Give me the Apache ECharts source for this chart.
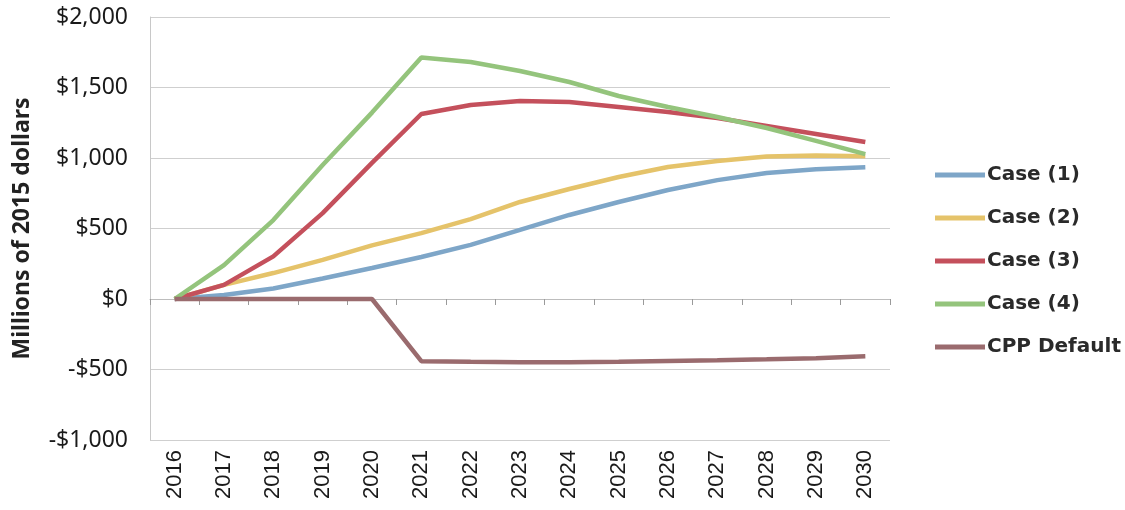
<!DOCTYPE html>
<html>
<head>
<meta charset="utf-8">
<script src="https://cdn.jsdelivr.net/npm/echarts@6/dist/echarts.min.js"></script>
<style>
  html, body { margin: 0; padding: 0; background: #ffffff; }
  #chart { width: 1125px; height: 510px; }
</style>
</head>
<body>
<div id="chart"></div>
<script>
const years = ['2016','2017','2018','2019','2020','2021','2022','2023','2024','2025','2026','2027','2028','2029','2030'];
const case1 = [0, 28, 75, 145, 220, 298, 384, 490, 596, 688, 773, 843, 893, 921, 935];
const case2 = [0, 100, 184, 278, 380, 467, 567, 688, 780, 865, 936, 979, 1010, 1018, 1012];
const case3 = [0, 100, 302, 609, 965, 1312, 1376, 1404, 1397, 1362, 1326, 1284, 1227, 1170, 1113];
const case4 = [0, 240, 560, 950, 1322, 1713, 1681, 1617, 1539, 1440, 1362, 1291, 1213, 1121, 1028];
const cppDefault = [0, 0, 0, 0, 0, -441, -445, -448, -448, -445, -440, -435, -428, -420, -406];
const seriesNames = ['Case (1)', 'Case (2)', 'Case (3)', 'Case (4)', 'CPP Default'];
const yTicks = { min: -1000, max: 2000, interval: 500 };

const colors = ['#7ea6c8', '#e5c36a', '#c4505c', '#94c47c', '#9a6b6e'];
const allData = [case1, case2, case3, case4, cppDefault];

function fmt(v) {
  const a = Math.abs(v).toLocaleString('en-US');
  return (v < 0 ? '-$' : '$') + a;
}

const chart = echarts.init(document.getElementById('chart'), null, { renderer: 'canvas' });
chart.setOption({
  backgroundColor: '#ffffff',
  animation: false,
  color: colors,
  grid: { left: 150, right: 235, top: 17, bottom: 70, containLabel: false },
  legend: {
    orient: 'vertical',
    left: 930,
    top: 160,
    itemWidth: 50,
    itemHeight: 5,
    itemGap: 23,
    icon: 'rect',
    data: seriesNames,
    textStyle: { fontFamily: 'DejaVu Sans', fontWeight: 'bold', fontSize: 20, color: '#2a2a2a', lineHeight: 20, padding: [0, 0, 0, -3] }
  },
  xAxis: [
    {
      type: 'category',
      data: years,
      boundaryGap: true,
      position: 'bottom',
      axisLine: { show: false, onZero: false },
      axisTick: { show: false },
      axisLabel: { rotate: 90, fontFamily: 'Liberation Sans', fontSize: 22, color: '#1a1a1a', margin: 10 },
      splitLine: { show: false }
    },
    {
      type: 'category',
      data: years,
      boundaryGap: true,
      position: 'bottom',
      axisLine: { show: true, onZero: true, lineStyle: { color: '#bdbdbd', width: 1 } },
      axisTick: { show: true, inside: false, length: 6, lineStyle: { color: '#9a9a9a', width: 1 } },
      axisLabel: { show: false },
      splitLine: { show: false }
    }
  ],
  yAxis: {
    type: 'value',
    min: yTicks.min,
    max: yTicks.max,
    interval: yTicks.interval,
    name: 'Millions of 2015 dollars',
    nameLocation: 'middle',
    nameGap: 116,
    nameRotate: 90,
    nameTextStyle: { fontFamily: 'Noto Sans', fontWeight: 'bold', fontSize: 23, color: '#222222' },
    axisLine: { show: true, lineStyle: { color: '#c8c8c8', width: 1 } },
    axisTick: { show: false },
    axisLabel: { formatter: fmt, fontFamily: 'Noto Sans', fontSize: 23, color: '#1a1a1a', margin: 22 },
    splitLine: { show: true, lineStyle: { color: '#cfcfcf', width: 1 } }
  },
  series: seriesNames.map((n, i) => ({
    name: n,
    type: 'line',
    xAxisIndex: 0,
    data: allData[i],
    symbol: 'none',
    smooth: false,
    lineStyle: { color: colors[i], width: 4.5 },
    itemStyle: { color: colors[i] },
    z: i === 4 ? 3 : 2
  }))
});
</script>
</body>
</html>
